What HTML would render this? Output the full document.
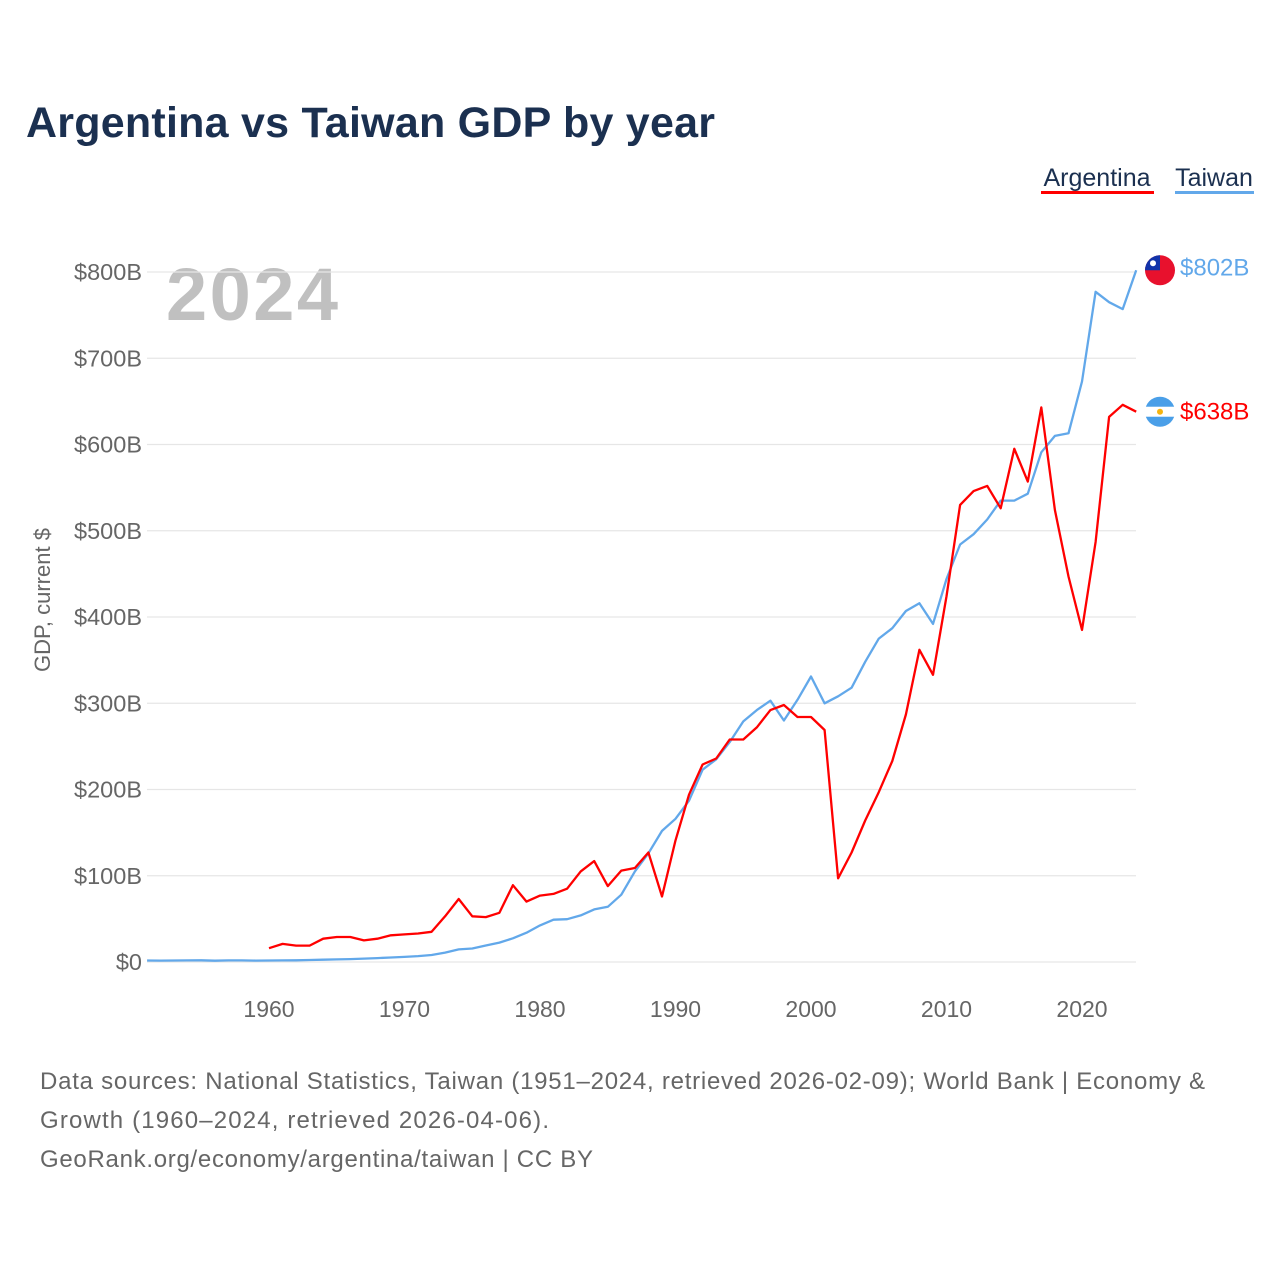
<!DOCTYPE html>
<html><head><meta charset="utf-8"><style>
body{margin:0;background:#fff;font-family:"Liberation Sans",sans-serif}
#wrap{position:relative;width:1280px;height:1280px;overflow:hidden}
</style></head><body>
<div id="wrap">
<svg id="chart" width="1280" height="1280" xmlns="http://www.w3.org/2000/svg">
<text x="26" y="137" font-size="43" font-weight="bold" fill="#1b3050" textLength="689">Argentina vs Taiwan GDP by year</text>
<g><text x="1097" y="186" font-size="25" fill="#1b3050" text-anchor="middle">Argentina</text><rect x="1041" y="191" width="113" height="3" fill="#ff0000"/></g>
<g><text x="1214" y="186" font-size="25" fill="#1b3050" text-anchor="middle">Taiwan</text><rect x="1175" y="191" width="79" height="3" fill="#62a8ea"/></g>
<text x="166" y="320" font-size="74" font-weight="bold" fill="#c0c0c0" textLength="172">2024</text>
<text transform="translate(50,600) rotate(-90)" font-size="22" fill="#666" text-anchor="middle">GDP, current $</text>
<g id="grid"></g><g id="yt"></g><g id="xt"></g><g id="series"></g>
<text x="40" y="1089" font-size="24" fill="#666" textLength="1165">Data sources: National Statistics, Taiwan (1951–2024, retrieved 2026-02-09); World Bank | Economy &amp;</text>
<text x="40" y="1128" font-size="24" fill="#666" textLength="509">Growth (1960–2024, retrieved 2026-04-06).</text>
<text x="40" y="1167" font-size="24" fill="#666" textLength="553">GeoRank.org/economy/argentina/taiwan | CC BY</text>
</svg>
</div>
<script>
const argYears=[1960,2024];
const argValues=[16,21,19,19,27,29,29,25,27,31,32,33,35,53,73,53,52,57,89,70,77,79,85,105,117,88,106,109,127,76,141,194,229,236,258,258,272,292,298,284,284,269,97,127,164,197,233,287,362,333,424,530,546,552,526,595,557,643,524,447,385,487,632,646,638];
const twYears=[1951,2024];
const twValues=[1.7,1.6,1.7,1.9,2.0,1.5,1.8,1.9,1.6,1.7,1.8,2.0,2.3,2.7,3.0,3.4,3.9,4.5,5.2,5.9,6.8,8.1,10.9,14.6,15.7,19.1,22.5,27.5,34,42.4,49,49.6,54,61,64,78,105,126,152,166,187,223,235,255,279,292,303,280,304,331,300,308,318,348,375,387,407,416,392,444,484,496,513,535,535,543,591,610,613,673,777,765,757,802];
const yTicks=[0,100,200,300,400,500,600,700,800];
const xTicks=[1960,1970,1980,1990,2000,2010,2020];
const NS="http://www.w3.org/2000/svg";
const X=y=>269+(y-1960)*(813/60);
const Y=v=>962-v*0.8625;
function mk(t,a,p){const e=document.createElementNS(NS,t);for(const k in a)e.setAttribute(k,a[k]);p.appendChild(e);return e;}
const grid=document.getElementById('grid'),yt=document.getElementById('yt'),xt=document.getElementById('xt'),ser=document.getElementById('series');
yTicks.forEach(v=>{
 const l=mk('line',{x1:147,x2:1136,y1:Y(v),y2:Y(v),stroke:'#e6e6e6','stroke-width':1.3},grid);
 
 
 const t=mk('text',{x:142,y:Y(v)+8,'font-size':23.5,fill:'#666','text-anchor':'end'},yt);
 t.textContent='$'+v+(v?'B':'');
 
 
});
xTicks.forEach(y=>{
 const t=mk('text',{x:X(y),y:1017,'font-size':23,fill:'#666','text-anchor':'middle'},xt);
 t.textContent=y;
 
 
});
function line(start,vals,col,name){
 const pts=vals.map((v,i)=>X(start+i).toFixed(1)+','+Y(v).toFixed(1)).join(' ');
 const p=mk('polyline',{points:pts,fill:'none',stroke:col,'stroke-width':2.3,'stroke-linejoin':'round'},ser);
 
 
}
line(twYears[0],twValues,'#62a8ea','taiwan-line');
line(argYears[0],argValues,'#ff0000','argentina-line');
const tl=twValues[twValues.length-1],al=argValues[argValues.length-1];
const fx=1160;
let g=mk('g',{},ser);


mk('circle',{cx:fx,cy:Y(tl),r:15,fill:'#e8112d'},g);
mk('path',{d:`M${fx-15},${Y(tl)} A15,15 0 0 1 ${fx},${Y(tl)-15} L${fx},${Y(tl)} Z`,fill:'#1133aa'},g);
mk('circle',{cx:fx-7,cy:Y(tl)-7,r:3,fill:'#fff'},g);
let t=mk('text',{x:1180,y:Y(tl)+5,'font-size':24,fill:'#62a8ea'},ser);
t.textContent='$'+tl+'B';


g=mk('g',{},ser);


mk('circle',{cx:fx,cy:Y(al),r:15,fill:'#4a9fe8'},g);
mk('rect',{x:fx-15,y:Y(al)-5,width:30,height:10,fill:'#fff'},g);
mk('circle',{cx:fx,cy:Y(al),r:3,fill:'#f6b40e'},g);
t=mk('text',{x:1180,y:Y(al)+8,'font-size':24,fill:'#ff0000'},ser);
t.textContent='$'+al+'B';


</script>
</body></html>
